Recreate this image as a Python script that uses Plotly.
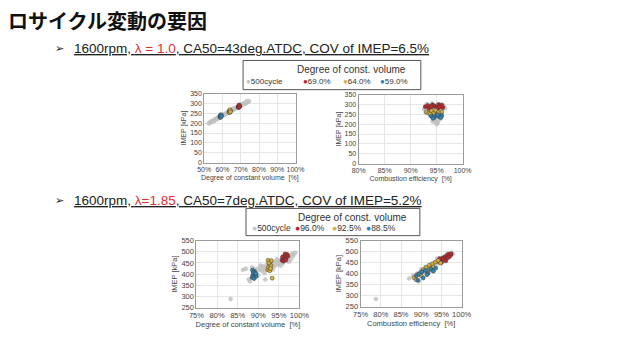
import plotly.graph_objects as go

W, H = 629, 338

# ---------------- data ----------------
series_names_top = ["500cycle", "69.0%", "64.0%", "59.0%"]
series_names_bot = ["500cycle", "96.0%", "92.5%", "88.5%"]
series_colors = ["#c4c4c4", "#c0272d", "#d4b13a", "#2f84b6"]

# Top-left: degree of constant volume [%] vs IMEP [kPa] (lambda = 1.0)
tl_gray_x = [52.5, 53, 53.5, 54, 54.5, 55, 55.5, 56, 56.5, 57, 57.5, 58, 58.5, 59, 59.5, 60,
             60.5, 61, 61.5, 62, 62.5, 63, 63.5, 64, 64.5, 65, 65.5, 66, 66.5, 67, 67.5, 68,
             68.5, 69, 69.5, 70, 70.5, 71, 71.5, 72, 72.5, 73, 73.5, 74, 74.5,
             55.2, 57.8, 60.8, 63.2, 66.2, 68.8, 71.2, 73.2]
tl_gray_y = [198, 204, 203, 210, 208, 214, 213, 220, 218, 225, 223, 229, 233, 234, 239, 238,
             244, 243, 249, 248, 254, 253, 259, 258, 264, 263, 270, 268, 275, 273, 279, 278,
             285, 283, 290, 288, 294, 293, 299, 297, 304, 302, 309, 307, 312,
             210, 232, 240, 257, 272, 280, 297, 310]
tl_red_x = [68.6, 68.8, 69.0, 69.2, 69.4, 68.9, 69.1, 69.3]
tl_red_y = [281, 287, 284, 290, 286, 279, 292, 283]
tl_yel_x = [63.6, 63.8, 64.0, 64.2, 64.4, 63.9, 64.1, 64.3]
tl_yel_y = [256, 262, 259, 265, 261, 253, 268, 258]
tl_blu_x = [58.6, 58.8, 59.0, 59.2, 59.4, 58.9, 59.1, 59.3]
tl_blu_y = [231, 236, 240, 234, 238, 229, 243, 236]

# Top-right: combustion efficiency [%] vs IMEP [kPa] (lambda = 1.0)
tr_gray_x = [92.6, 93.1, 93.6, 94.1, 94.6, 95.1, 95.6, 96.1, 96.6, 92.9, 93.4, 93.9, 94.4, 94.9,
             95.4, 95.9, 96.4, 94.2, 94.7, 95.2, 95.7, 94.8, 95.0, 95.3, 94.6, 95.9, 93.7]
tr_gray_y = [275, 302, 270, 305, 285, 298, 272, 300, 280, 258, 290, 248, 228, 262,
             232, 255, 290, 215, 222, 208, 226, 240, 200, 218, 212, 276, 243]
tr_red_x = [92.8, 93.3, 93.8, 94.2, 94.6, 95.0, 95.4, 95.8, 96.2, 93.5, 94.4, 95.2, 96.0, 94.0, 95.6]
tr_red_y = [288, 295, 282, 298, 290, 285, 300, 292, 284, 280, 293, 279, 296, 289, 287]
tr_yel_x = [93.0, 93.5, 94.0, 94.5, 95.0, 95.5, 96.0, 93.8, 94.8, 95.3]
tr_yel_y = [262, 255, 268, 258, 265, 252, 262, 250, 270, 259]
tr_blu_x = [94.0, 94.5, 95.0, 95.5, 96.0, 94.3, 95.2, 95.8]
tr_blu_y = [240, 234, 245, 238, 242, 230, 248, 233]

# Bottom-left: degree of constant volume [%] vs IMEP [kPa] (lambda = 1.85)
bl_gray_x = [86.3, 87.0, 87.7, 88.0, 91.7, 83.3, 89.0, 89.5, 90.0, 90.5, 91.0, 91.0, 91.5, 92.0,
             92.0, 92.5, 93.0, 93.0, 93.5, 94.0, 94.0, 94.5, 95.0, 95.0, 95.5, 96.0, 96.0, 96.5,
             97.0, 97.0, 97.5, 98.0, 98.0, 98.5, 99.0, 90.5, 92.5, 94.5, 96.5, 98.5, 91.5, 93.5,
             95.5, 97.5, 89.0, 88.5, 90.0]
bl_gray_y = [419, 424, 376, 367, 376, 289, 423, 410, 425, 418, 435, 415, 428, 440,
             420, 433, 448, 428, 440, 455, 435, 448, 462, 442, 455, 470, 450, 462,
             478, 458, 472, 488, 468, 482, 495, 438, 450, 465, 480, 492, 405, 420,
             438, 455, 400, 430, 395]
bl_red_x = [95.8, 96.0, 96.2, 96.4, 96.6, 96.8, 97.0, 96.1, 96.5, 97.2, 95.9, 96.7]
bl_red_y = [462, 470, 478, 466, 484, 474, 488, 458, 490, 480, 476, 463]
bl_yel_x = [92.3, 92.5, 92.7, 92.9, 93.1, 92.4, 92.8, 93.0, 92.6, 93.2, 93.4]
bl_yel_y = [420, 432, 445, 455, 438, 462, 415, 425, 450, 460, 382]
bl_blu_x = [88.5, 88.7, 88.9, 89.1, 89.3, 88.6, 89.5, 89.0, 88.8, 89.4]
bl_blu_y = [385, 395, 405, 412, 398, 418, 390, 380, 408, 402]

# Bottom-right: combustion efficiency [%] vs IMEP [kPa] (lambda = 1.85)
br_gray_x = [78.8, 87.0, 89.4, 88.0, 89.0, 90.0, 90.5, 91.0, 91.5, 92.0, 92.5, 93.0, 93.5, 94.0,
             94.5, 95.0, 95.5, 96.0, 96.5, 97.0, 97.5, 97.8, 91.0, 92.5, 94.0, 95.5, 96.5, 93.0,
             90.0, 88.5]
br_gray_y = [285, 378, 365, 392, 400, 395, 415, 405, 428, 420, 440, 432, 452, 445,
             465, 458, 475, 468, 485, 478, 495, 488, 430, 415, 470, 455, 492, 410,
             420, 375]
br_red_x = [94.3, 94.8, 95.3, 95.8, 96.3, 96.8, 97.3, 95.0, 95.6, 96.1, 96.6, 97.0, 94.6, 97.4]
br_red_y = [455, 462, 470, 475, 482, 488, 485, 450, 465, 458, 472, 478, 468, 490]
br_yel_x = [88.2, 89.0, 89.8, 90.5, 91.2, 92.0, 92.8, 93.5, 94.2, 94.8, 90.0, 91.5, 93.0, 88.8, 92.3]
br_yel_y = [382, 395, 405, 418, 428, 438, 445, 452, 460, 448, 390, 410, 430, 372, 422]
br_blu_x = [88.8, 89.5, 90.2, 91.0, 91.7, 92.4, 93.0, 93.6, 90.5, 89.2, 91.4]
br_blu_y = [390, 398, 408, 415, 402, 420, 412, 425, 380, 370, 395]

x_title_dcv = "Degree of constant volume  [%]"
x_title_ce = "Combustion efficiency  [%]"
y_title = "IMEP [kPa]"
legend_title = "Degree of const. volume"
slide_title = "ロサイクル変動の要因"
sub1 = ("<u>1600rpm, <span style='color:#e03030'>λ = 1.0</span>, "
        "CA50=43deg.ATDC, COV of IMEP=6.5%</u>")
sub2 = ("<u>1600rpm, <span style='color:#e03030'>λ=1.85</span>, "
        "CA50=7deg.ATDC, COV of IMEP=5.2%</u>")

# ---------------- helpers ----------------
def px(x):
    return x / W

def py(y):
    return 1 - y / H

FONT = "Liberation Sans"
fig = go.Figure()

panels = [
    ("", [(tl_gray_x, tl_gray_y), (tl_red_x, tl_red_y), (tl_yel_x, tl_yel_y), (tl_blu_x, tl_blu_y)],
     [50, 100], 10, [0, 350], (202, 296), (92, 163), x_title_dcv, series_names_top),
    ("2", [(tr_gray_x, tr_gray_y), (tr_red_x, tr_red_y), (tr_yel_x, tr_yel_y), (tr_blu_x, tr_blu_y)],
     [80, 100], 5, [0, 350], (361, 468), (93, 164), x_title_ce, series_names_top),
    ("3", [(bl_gray_x, bl_gray_y), (bl_red_x, bl_red_y), (bl_yel_x, bl_yel_y), (bl_blu_x, bl_blu_y)],
     [75, 100], 5, [250, 550], (194, 300), (243, 312), x_title_dcv, series_names_bot),
    ("4", [(br_gray_x, br_gray_y), (br_red_x, br_red_y), (br_yel_x, br_yel_y), (br_blu_x, br_blu_y)],
     [75, 100], 5, [250, 550], (363, 467), (243, 311), x_title_ce, series_names_bot),
]

for suf, groups, xr, dt, yr, xd, yd, xt, names in panels:
    for i, (gx, gy) in enumerate(groups):
        gray = i == 0
        fig.add_trace(go.Scatter(
            x=gx, y=gy, mode="markers", name=names[i], showlegend=False,
            xaxis="x" + suf, yaxis="y" + suf,
            marker=dict(size=4, color=series_colors[i],
                        line=dict(width=0.5, color="#b8b8b8" if gray else "#3a3a3a"),
                        opacity=0.85 if gray else 1.0),
        ))
    small = suf in ("", "2")
    fs = 7 if small else 7.5
    axis_common = dict(showgrid=True, gridcolor="#e6e6e6", gridwidth=0.6, zeroline=False,
                       showline=True, linecolor="#9a9a9a", linewidth=1, mirror=True,
                       ticks="", tickangle=0, tickfont=dict(family=FONT, size=fs, color="#444"))
    fig.update_layout(**{
        "xaxis" + suf: dict(axis_common, range=xr, dtick=dt, tick0=xr[0], ticksuffix="%",
                           domain=[px(xd[0]), px(xd[1])], anchor="y" + suf,
                           title=dict(text=xt, font=dict(family=FONT, size=fs, color="#444"),
                                      standoff=3)),
        "yaxis" + suf: dict(axis_common, range=yr, dtick=50,
                           domain=[py(yd[1]), py(yd[0])], anchor="x" + suf,
                           title=dict(text=y_title, font=dict(family=FONT, size=fs, color="#444"),
                                      standoff=2)),
    })

ann = []
shapes = []
ann.append(dict(x=px(-2), y=py(17), xref="paper", yref="paper", xanchor="left", yanchor="middle",
                text="<b>" + slide_title + "</b>", showarrow=False,
                font=dict(family="Noto Sans CJK JP", size=20, color="#111")))
for yy, txt in ((46, sub1), (202, sub2)):
    ann.append(dict(x=px(46), y=py(yy), xref="paper", yref="paper", xanchor="left", yanchor="middle",
                    text="➢", showarrow=False, font=dict(family="DejaVu Sans", size=11, color="#222")))
    ann.append(dict(x=px(66), y=py(yy), xref="paper", yref="paper", xanchor="left", yanchor="middle",
                    text=txt, showarrow=False, font=dict(family=FONT, size=13.5, color="#222")))

legend_specs = [
    ((242, 58, 425, 88), 67, 80, [243, 302, 343, 381], series_names_top, 10, 8),
    ((245, 210, 424, 238), 219, 230, [249, 293, 331, 366], series_names_bot, 10, 8.5),
]
for (x0, y0, x1, y1), ty, iy, xs, names, tfs, ifs in legend_specs:
    shapes.append(dict(type="rect", xref="paper", yref="paper", x0=px(x0), x1=px(x1),
                       y0=py(y1), y1=py(y0), line=dict(color="#555", width=1), fillcolor="white",
                       layer="above"))
    ann.append(dict(x=px((x0 + x1) / 2 + 20), y=py(ty), xref="paper", yref="paper",
                    xanchor="center", yanchor="middle", text=legend_title, showarrow=False,
                    font=dict(family=FONT, size=tfs, color="#333")))
    for xi, nm, col in zip(xs, names, series_colors):
        ann.append(dict(x=px(xi), y=py(iy), xref="paper", yref="paper", xanchor="left",
                        yanchor="middle", showarrow=False,
                        text=f"<span style='color:{col}'>●</span>{nm}",
                        font=dict(family=FONT, size=ifs, color="#333")))

fig.update_layout(width=W, height=H, margin=dict(l=0, r=0, t=0, b=0),
                  paper_bgcolor="white", plot_bgcolor="white",
                  annotations=ann, shapes=shapes, showlegend=False)

fig.write_html("out.html", config={"displayModeBar": False},
               post_script="document.body.style.margin='0';document.body.style.overflow='hidden';")
